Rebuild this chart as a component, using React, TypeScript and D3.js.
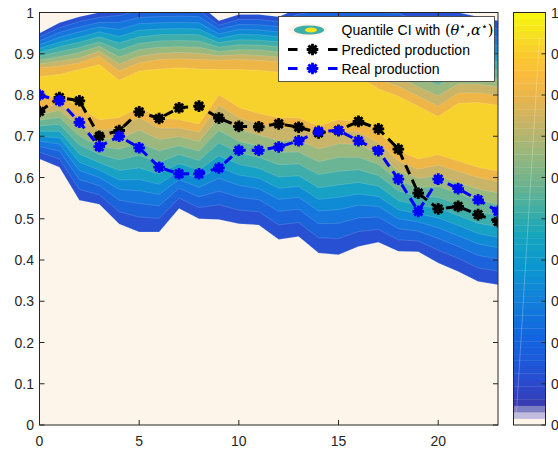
import React from "react";
import * as d3 from "d3";

// ---------- data ----------
const hours = [0,1,2,3,4,5,6,7,8,9,10,11,12,13,14,15,16,17,18,19,20,21,22,23];

const predicted = [0.76,0.794,0.786,0.70,0.714,0.759,0.743,0.769,0.773,0.744,0.724,0.723,0.73,0.722,0.708,0.714,0.736,0.718,0.669,0.562,0.524,0.530,0.510,0.493];
const real = [0.80,0.786,0.734,0.675,0.70,0.672,0.625,0.609,0.609,0.623,0.666,0.666,0.674,0.689,0.712,0.714,0.689,0.665,0.596,0.518,0.596,0.573,0.546,0.518];

// lower quantile curves (outer L0 -> inner L10)
const L0 = [0.645,0.625,0.545,0.535,0.487,0.468,0.468,0.525,0.50,0.498,0.488,0.485,0.45,0.457,0.417,0.413,0.433,0.443,0.421,0.42,0.393,0.372,0.348,0.34];
const L1 = [0.661,0.645,0.571,0.558,0.517,0.504,0.501,0.55,0.527,0.534,0.521,0.517,0.485,0.491,0.454,0.452,0.469,0.474,0.449,0.446,0.424,0.404,0.381,0.373];
const L2 = [0.675,0.664,0.595,0.58,0.545,0.537,0.531,0.574,0.553,0.567,0.552,0.546,0.518,0.523,0.488,0.489,0.502,0.504,0.476,0.47,0.452,0.433,0.411,0.403];
const L3 = [0.688,0.681,0.617,0.60,0.571,0.568,0.559,0.595,0.576,0.598,0.581,0.573,0.547,0.552,0.519,0.522,0.533,0.53,0.50,0.492,0.478,0.459,0.439,0.43];
const L4 = [0.70,0.696,0.637,0.618,0.594,0.595,0.584,0.615,0.597,0.625,0.606,0.598,0.574,0.578,0.547,0.552,0.56,0.554,0.522,0.512,0.502,0.484,0.464,0.455];
const L5 = [0.712,0.712,0.657,0.636,0.617,0.623,0.609,0.634,0.618,0.653,0.632,0.622,0.601,0.604,0.575,0.582,0.588,0.579,0.544,0.532,0.526,0.508,0.489,0.48];
const L6 = [0.725,0.729,0.679,0.656,0.643,0.654,0.637,0.656,0.641,0.684,0.66,0.649,0.631,0.633,0.607,0.615,0.619,0.605,0.568,0.554,0.552,0.535,0.517,0.508];
const L7 = [0.739,0.746,0.701,0.675,0.669,0.684,0.665,0.677,0.664,0.714,0.688,0.676,0.661,0.662,0.638,0.649,0.649,0.632,0.592,0.576,0.578,0.562,0.545,0.535];
const L8 = [0.752,0.763,0.723,0.695,0.694,0.715,0.692,0.699,0.687,0.745,0.717,0.703,0.69,0.691,0.669,0.682,0.68,0.658,0.616,0.598,0.604,0.588,0.572,0.563];
const L9 = [0.765,0.78,0.745,0.715,0.72,0.745,0.72,0.72,0.71,0.775,0.745,0.73,0.72,0.72,0.70,0.715,0.71,0.685,0.64,0.62,0.63,0.615,0.60,0.59];
const L10 = [0.79,0.80,0.77,0.74,0.745,0.77,0.745,0.74,0.73,0.80,0.77,0.755,0.745,0.745,0.725,0.74,0.735,0.71,0.665,0.645,0.655,0.64,0.625,0.615];

// upper quantile curves (outer U0 -> inner U10)
const U0 = [0.95,0.975,0.99,1.0,1.01,1.02,1.02,1.02,1.02,0.98,0.995,0.995,0.99,1.01,1.02,1.02,1.02,1.02,1.02,1.0,1.0,1.0,0.99,0.98];
const U1 = [0.941,0.963,0.978,0.988,0.993,1.004,1.005,1.005,1.005,0.969,0.983,0.983,0.978,0.996,1.004,1.004,1.003,1.0,0.998,0.977,0.975,0.978,0.969,0.96];
const U2 = [0.931,0.952,0.965,0.976,0.976,0.988,0.99,0.991,0.99,0.959,0.971,0.97,0.966,0.981,0.988,0.988,0.987,0.979,0.976,0.955,0.95,0.957,0.949,0.94];
const U3 = [0.922,0.94,0.953,0.965,0.959,0.973,0.975,0.976,0.975,0.948,0.959,0.958,0.953,0.967,0.972,0.972,0.97,0.959,0.954,0.932,0.924,0.935,0.928,0.92];
const U4 = [0.913,0.928,0.94,0.953,0.942,0.957,0.96,0.961,0.96,0.937,0.947,0.946,0.941,0.952,0.956,0.956,0.953,0.939,0.932,0.91,0.899,0.913,0.908,0.90];
const U5 = [0.903,0.917,0.928,0.941,0.926,0.941,0.946,0.947,0.946,0.927,0.934,0.933,0.929,0.938,0.939,0.939,0.937,0.918,0.909,0.887,0.874,0.892,0.887,0.88];
const U6 = [0.894,0.905,0.915,0.929,0.909,0.925,0.931,0.932,0.931,0.916,0.922,0.921,0.917,0.923,0.923,0.923,0.92,0.898,0.887,0.865,0.849,0.87,0.867,0.86];
const U7 = [0.885,0.893,0.903,0.918,0.892,0.91,0.916,0.917,0.916,0.905,0.91,0.909,0.904,0.909,0.907,0.907,0.903,0.878,0.865,0.842,0.823,0.848,0.846,0.84];
const U8 = [0.875,0.882,0.89,0.906,0.875,0.894,0.901,0.903,0.901,0.895,0.898,0.896,0.892,0.894,0.891,0.891,0.887,0.857,0.843,0.82,0.798,0.827,0.826,0.82];
const U9 = [0.866,0.87,0.878,0.894,0.858,0.878,0.886,0.888,0.886,0.884,0.886,0.884,0.88,0.88,0.875,0.875,0.87,0.837,0.821,0.797,0.773,0.805,0.805,0.80];
const U10 = [0.845,0.85,0.862,0.874,0.836,0.858,0.863,0.866,0.863,0.862,0.862,0.86,0.855,0.855,0.85,0.85,0.845,0.815,0.797,0.773,0.748,0.78,0.782,0.775];

const xTicks = [0, 5, 10, 15, 20];
const yTicks = [0, 0.1, 0.2, 0.3, 0.4, 0.5, 0.6, 0.7, 0.8, 0.9, 1];
const yTickLabels = ["0", "0.1", "0.2", "0.3", "0.4", "0.5", "0.6", "0.7", "0.8", "0.9", "1"];

// ---------- styles ----------
const bandColors = ["#2751D2", "#1B63DB", "#1576DD", "#0F8BD6", "#17A1C4", "#3FAEAA", "#6CB594", "#9BB87F", "#C9B467", "#EDB646", "#F8D22C"];
const cream = "#FDF5EA";
const cmapStops = [0.047, 0.08, 0.12, 0.17, 0.22, 0.30, 0.38, 0.46, 0.52, 0.58, 0.66, 0.72, 0.79, 0.85, 0.90, 0.95, 1.0];
const cmapColors = ["#3A3AAE", "#2F44C2", "#2550D3", "#1B5CDB", "#1166DF", "#1380DA", "#0C95D1", "#15A6BC", "#3DAEA6", "#6BB38F", "#98B77B", "#C0B46B", "#E6B44F", "#FBBC3C", "#F9CA2E", "#F5E221", "#F9F90F"];

const W = 558, H = 452;
const PL = 39.5, PR = 498, PT = 12.5, PB = 425;
const CBL = 513.5, CBR = 545.5;
const axisColor = "#262626";
const FONT = "'Liberation Sans', Arial, Helvetica, sans-serif";
const SERIF = "'DejaVu Serif', 'Liberation Serif', serif";

function Asterisk({ cx, cy, color }: { cx: number; cy: number; color: string }) {
  const r = 5.8, d = 4.1;
  return (
    <g transform={`translate(${cx},${cy})`}>
      <circle r={4.3} fill={color} />
      <path d={`M${-r},0L${r},0M0,${-r}L0,${r}M${-d},${-d}L${d},${d}M${-d},${d}L${d},${-d}`} stroke={color} strokeWidth={2.8} />
    </g>
  );
}

export default function App() {
  const x = d3.scaleLinear().domain([0, 23]).range([PL, PR]);
  const y = d3.scaleLinear().domain([0, 1]).range([PB, PT]);
  const lowers = [L0, L1, L2, L3, L4, L5, L6, L7, L8, L9, L10];
  const uppers = [U0, U1, U2, U3, U4, U5, U6, U7, U8, U9, U10];

  const bands = lowers.map((lo, k) => {
    const up = uppers[k];
    const area = d3.area<number>()
      .x((h) => x(h))
      .y0((_, i) => y(lo[i]))
      .y1((_, i) => y(up[i]))
      .curve(d3.curveLinear);
    return area(hours) as string;
  });

  const line = (vals: number[]) =>
    d3.line<number>().x((h) => x(h)).y((_, i) => y(vals[i]))(hours) as string;

  const cmap = d3.scaleLinear<string>().domain(cmapStops).range(cmapColors).interpolate(d3.interpolateRgb);
  const cbY = d3.scaleLinear().domain([0, 1]).range([PB, PT]);
  const nCells = 64;
  const cells = d3.range(nCells).map((i) => {
    let c: string;
    if (i === 0) c = cream;
    else if (i === 1) c = "#C0BCDD";
    else if (i === 2) c = "#7E7EC2";
    else c = cmap((i + 0.5) / nCells);
    return { y0: cbY(i / nCells), y1: cbY((i + 1) / nCells), c };
  });

  return (
    <svg width={W} height={H} style={{ position: "absolute", left: 0, top: 0, background: "#fff" }} fontFamily={FONT}>
      <defs>
        <clipPath id="plotClip">
          <rect x={PL} y={PT} width={PR - PL} height={PB - PT} />
        </clipPath>
      </defs>
      <rect x={0} y={0} width={W} height={H} fill="#fff" />
      <rect x={PL} y={PT} width={PR - PL} height={PB - PT} fill={cream} />
      <g clipPath="url(#plotClip)">
        {bands.map((d, k) => (
          <path key={k} d={d} fill={bandColors[k]} stroke="rgba(255,255,255,0.25)" strokeWidth={0.6} />
        ))}
        <path d={line(predicted)} fill="none" stroke="#000" strokeWidth={3} strokeDasharray="10 6" />
        {hours.map((h, i) => (
          <Asterisk key={"p" + i} cx={x(h)} cy={y(predicted[i])} color="#000" />
        ))}
        <path d={line(real)} fill="none" stroke="#0000FF" strokeWidth={3} strokeDasharray="10 6" />
        {hours.map((h, i) => (
          <Asterisk key={"r" + i} cx={x(h)} cy={y(real[i])} color="#0000FF" />
        ))}
      </g>
      {/* axes box */}
      <rect x={PL} y={PT} width={PR - PL} height={PB - PT} fill="none" stroke={axisColor} strokeWidth={1} />
      {xTicks.map((t) => (
        <g key={"xt" + t}>
          <line x1={x(t)} x2={x(t)} y1={PB} y2={PB - 5} stroke={axisColor} />
          <line x1={x(t)} x2={x(t)} y1={PT} y2={PT + 5} stroke={axisColor} />
          <text x={x(t)} y={446} fontSize={14} textAnchor="middle" fill="#262626">{t}</text>
        </g>
      ))}
      {yTicks.map((t, i) => (
        <g key={"yt" + i}>
          <line x1={PL} x2={PL + 5} y1={y(t)} y2={y(t)} stroke={axisColor} />
          <line x1={PR} x2={PR - 5} y1={y(t)} y2={y(t)} stroke={axisColor} />
          <text x={34} y={y(t) + 5} fontSize={14} textAnchor="end" fill="#262626">{yTickLabels[i]}</text>
        </g>
      ))}

      {/* legend */}
      <g>
        <rect x={278.5} y={16.5} width={216} height={65} fill="#fff" stroke="#333" strokeWidth={0.8} />
        <ellipse cx={307.5} cy={30} rx={19.5} ry={6.5} fill={cream} />
        <ellipse cx={309} cy={30} rx={15} ry={4.5} fill="#3FAEAA" />
        <ellipse cx={311} cy={30} rx={6} ry={2.6} fill="#F5E221" />
        <text x={341.5} y={35} fontSize={14} fill="#000">
          Quantile CI with
          <tspan fontFamily={SERIF} fontSize={14.5}> (</tspan>
          <tspan fontFamily={SERIF} fontStyle="italic" fontSize={14.5}>θ</tspan>
          <tspan fontFamily={SERIF} fontSize={11} dy={-5}>⋆</tspan>
          <tspan fontFamily={SERIF} fontSize={14.5} dy={5}>,</tspan>
          <tspan fontFamily={SERIF} fontStyle="italic" fontSize={14.5}>α</tspan>
          <tspan fontFamily={SERIF} fontSize={11} dy={-5}>⋆</tspan>
          <tspan fontFamily={SERIF} fontSize={14.5} dy={5}>)</tspan>
        </text>
        <line x1={288} x2={297.5} y1={49.5} y2={49.5} stroke="#000" strokeWidth={3} />
        <line x1={328} x2={337.5} y1={49.5} y2={49.5} stroke="#000" strokeWidth={3} />
        <Asterisk cx={312.5} cy={49.5} color="#000" />
        <text x={341.5} y={54.5} fontSize={14} fill="#000">Predicted production</text>
        <line x1={288} x2={297.5} y1={68.5} y2={68.5} stroke="#0000FF" strokeWidth={3} />
        <line x1={328} x2={337.5} y1={68.5} y2={68.5} stroke="#0000FF" strokeWidth={3} />
        <Asterisk cx={312.5} cy={68.5} color="#0000FF" />
        <text x={341.5} y={73.5} fontSize={14} fill="#000">Real production</text>
      </g>

      {/* colorbar */}
      <g>
        {cells.map((c, i) => (
          <rect key={i} x={CBL} y={c.y1} width={CBR - CBL} height={c.y0 - c.y1 + 0.3} fill={c.c} />
        ))}
        <line x1={CBL + 3} y1={PB - 12} x2={CBR - 6} y2={PT + 25} stroke="rgba(255,255,255,0.25)" strokeWidth={1} />
        <rect x={CBL} y={PT} width={CBR - CBL} height={PB - PT} fill="none" stroke={axisColor} strokeWidth={1} />
        {yTicks.map((t, i) => (
          <g key={"cb" + i}>
            <line x1={CBR} x2={CBR - 4} y1={cbY(t)} y2={cbY(t)} stroke={axisColor} />
            <text x={551} y={cbY(t) + 5} fontSize={14} fill="#262626">{yTickLabels[i]}</text>
          </g>
        ))}
      </g>
    </svg>
  );
}
